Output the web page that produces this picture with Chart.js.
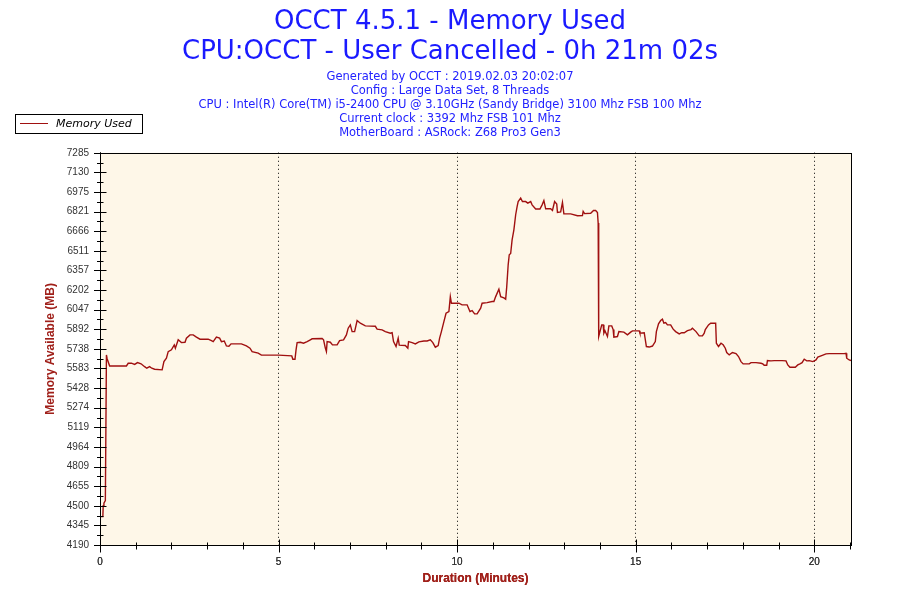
<!DOCTYPE html>
<html>
<head>
<meta charset="utf-8">
<title>OCCT 4.5.1 - Memory Used</title>
<script src="https://cdn.jsdelivr.net/npm/chart.js@4/dist/chart.umd.min.js"></script>
<style>
  html, body { margin: 0; padding: 0; background: #fff; }
</style>
</head>
<body>
<canvas id="memChart" width="900" height="600"></canvas>
<script>
// time in minutes, memory in MB
const minutes = [
  0.00, 0.08, 0.09, 0.11, 0.15, 0.18, 0.20, 0.27, 0.74, 0.79, 0.88, 0.97, 1.05, 1.15, 1.25, 1.31, 1.39, 1.45, 1.53, 1.74,
  1.79, 1.86, 1.91, 2.00, 2.08, 2.11, 2.19, 2.28, 2.38, 2.42, 2.52, 2.61, 2.70, 2.80, 3.03, 3.12, 3.17, 3.26, 3.35, 3.40,
  3.48, 3.54, 3.61, 3.67, 3.96, 4.10, 4.20, 4.26, 4.43, 4.52, 5.00, 5.37, 5.40, 5.46, 5.49, 5.52, 5.61, 5.70, 5.80, 5.89,
  5.94, 6.22, 6.26, 6.31, 6.34, 6.36, 6.45, 6.51, 6.64, 6.71, 6.82, 6.90, 6.95, 7.01, 7.06, 7.13, 7.20, 7.29, 7.43, 7.71,
  7.76, 7.90, 7.99, 8.13, 8.18, 8.22, 8.29, 8.35, 8.38, 8.55, 8.62, 8.64, 8.74, 8.83, 8.93, 9.07, 9.16, 9.25, 9.32, 9.39,
  9.47, 9.51, 9.56, 9.63, 9.69, 9.77, 9.81, 9.84, 9.91, 10.05, 10.14, 10.28, 10.36, 10.42, 10.49, 10.56, 10.66, 10.70, 10.84, 10.98,
  11.03, 11.08, 11.17, 11.22, 11.31, 11.36, 11.39, 11.43, 11.46, 11.50, 11.54, 11.59, 11.64, 11.68, 11.71, 11.78, 11.83, 11.92, 11.98, 12.06,
  12.10, 12.20, 12.32, 12.38, 12.43, 12.48, 12.62, 12.67, 12.73, 12.79, 12.81, 12.90, 12.95, 12.99, 13.18, 13.37, 13.51, 13.53, 13.57, 13.74,
  13.82, 13.88, 13.93, 13.95, 13.96, 13.97, 14.05, 14.09, 14.11, 14.14, 14.21, 14.25, 14.33, 14.37, 14.39, 14.49, 14.53, 14.67, 14.77, 14.86,
  14.91, 15.10, 15.12, 15.24, 15.30, 15.38, 15.47, 15.55, 15.58, 15.64, 15.70, 15.75, 15.79, 15.84, 15.89, 15.98, 16.05, 16.12, 16.22, 16.29,
  16.36, 16.45, 16.55, 16.59, 16.69, 16.78, 16.87, 16.92, 16.95, 17.04, 17.10, 17.24, 17.26, 17.32, 17.39, 17.45, 17.51, 17.55, 17.62, 17.71,
  17.81, 17.88, 17.95, 18.01, 18.18, 18.23, 18.37, 18.51, 18.56, 18.60, 18.67, 18.69, 18.79, 18.88, 19.10, 19.21, 19.26, 19.32, 19.47, 19.54,
  19.60, 19.66, 19.72, 19.79, 19.86, 19.96, 20.05, 20.10, 20.19, 20.33, 20.42, 20.84, 20.89, 20.91, 20.98, 21.03
];
const memoryUsed = [
  4414, 4414, 4500, 4520, 4540, 5690, 5660, 5603, 5603, 5624, 5625, 5615, 5629, 5620, 5597, 5585, 5597, 5585, 5577, 5572,
  5637, 5664, 5716, 5730, 5769, 5743, 5809, 5787, 5790, 5822, 5848, 5848, 5830, 5814, 5814, 5803, 5795, 5830, 5822, 5795,
  5800, 5761, 5758, 5777, 5777, 5761, 5743, 5716, 5704, 5688, 5688, 5682, 5656, 5656, 5730, 5787, 5790, 5782, 5795, 5809,
  5817, 5820, 5809, 5743, 5716, 5795, 5790, 5769, 5769, 5803, 5809, 5848, 5901, 5927, 5874, 5874, 5961, 5940, 5919, 5916,
  5893, 5888, 5874, 5861, 5865, 5795, 5756, 5822, 5767, 5764, 5743, 5795, 5787, 5777, 5793, 5800, 5800, 5809, 5787, 5751,
  5764, 5822, 5874, 5953, 6019, 6032, 6150, 6098, 6098, 6098, 6085, 6085, 6032, 6040, 6014, 6014, 6059, 6098, 6103, 6111,
  6111, 6150, 6209, 6150, 6140, 6130, 6229, 6401, 6480, 6490, 6598, 6677, 6796, 6861, 6900, 6927, 6900, 6900, 6888, 6900,
  6874, 6841, 6841, 6874, 6908, 6843, 6843, 6830, 6900, 6880, 6814, 6818, 6893, 6803, 6803, 6788, 6790, 6822, 6805, 6808,
  6830, 6830, 6814, 6730, 6338, 5835, 5927, 5927, 5861, 5880, 5835, 5919, 5919, 5890, 5830, 5835, 5874, 5870, 5848, 5870,
  5880, 5880, 5861, 5865, 5756, 5752, 5760, 5795, 5874, 5935, 5961, 5972, 5940, 5945, 5927, 5927, 5893, 5874, 5856, 5865,
  5865, 5882, 5890, 5901, 5874, 5840, 5840, 5861, 5890, 5927, 5940, 5940, 5782, 5756, 5782, 5770, 5743, 5709, 5690, 5709,
  5700, 5677, 5637, 5619, 5619, 5629, 5629, 5624, 5619, 5608, 5608, 5645, 5643, 5645, 5645, 5643, 5611, 5593, 5593, 5611,
  5619, 5629, 5656, 5643, 5645, 5637, 5650, 5672, 5682, 5698, 5700, 5700, 5703, 5664, 5650, 5645
];
const yTickLabels = ['4190', '4345', '4500', '4655', '4809', '4964', '5119', '5274', '5428', '5583', '5738',
  '5892', '6047', '6202', '6357', '6511', '6666', '6821', '6975', '7130', '7285'];
const xLabelEvery = 5;

const titleLines = ['OCCT 4.5.1 - Memory Used', 'CPU:OCCT - User Cancelled - 0h 21m 02s'];
const infoLines = [
  'Generated by OCCT : 2019.02.03 20:02:07',
  'Config : Large Data Set, 8 Threads',
  'CPU : Intel(R) Core(TM) i5-2400 CPU @ 3.10GHz (Sandy Bridge) 3100 Mhz FSB 100 Mhz',
  'Current clock : 3392 Mhz FSB 101 Mhz',
  'MotherBoard : ASRock: Z68 Pro3 Gen3'
];

const lineColor = '#a01010';

// cream plot area, frame, tick marks and the boxed legend
const occtFrame = {
  id: 'occtFrame',
  beforeDatasetsDraw(chart) {
    const { ctx, chartArea: a } = chart;
    ctx.save();
    ctx.fillStyle = '#fef7e8';
    ctx.fillRect(a.left, a.top, a.right - a.left, a.bottom - a.top);
    ctx.restore();
    chart.scales.x.draw(a);  // redraw dotted grid over the fill
  },
  afterDraw(chart) {
    const { ctx, chartArea: a, scales: { x, y } } = chart;
    ctx.save();
    ctx.strokeStyle = '#000';
    ctx.lineWidth = 1;
    ctx.strokeRect(Math.round(a.left) + 0.5, Math.round(a.top) + 0.5,
      Math.round(a.right - a.left), Math.round(a.bottom - a.top));

    ctx.beginPath();
    const yb = Math.round(a.bottom) + 0.5;
    for (let m = 0; m <= Math.floor(x.max); m++) {
      const px = Math.round(x.getPixelForValue(m)) + 0.5;
      const len = m % xLabelEvery === 0 ? 6 : 3;
      ctx.moveTo(px, yb - len);
      ctx.lineTo(px, yb + len + 1);
    }
    const xl = Math.round(a.left) + 0.5;
    const step = (y.max - y.min) / (yTickLabels.length - 1);
    for (let i = 0; i < yTickLabels.length; i++) {
      const py = Math.round(y.getPixelForValue(y.min + i * step)) + 0.5;
      ctx.moveTo(xl - 6.5, py);
      ctx.lineTo(xl + 6, py);
      if (i < yTickLabels.length - 1) {
        const pm = Math.round(y.getPixelForValue(y.min + (i + 0.5) * step)) + 0.5;
        ctx.moveTo(xl - 3.5, pm);
        ctx.lineTo(xl + 3, pm);
      }
    }
    ctx.stroke();

    // legend box
    ctx.fillStyle = '#fff';
    ctx.fillRect(15.5, 114.5, 127, 19);
    ctx.strokeRect(15.5, 114.5, 127, 19);
    ctx.strokeStyle = chart.data.datasets[0].borderColor;
    ctx.beginPath();
    ctx.moveTo(20, 123.5);
    ctx.lineTo(48, 123.5);
    ctx.stroke();
    ctx.fillStyle = '#000';
    ctx.font = 'italic 11px "DejaVu Sans"';
    ctx.textBaseline = 'middle';
    ctx.fillText(chart.data.datasets[0].label, 56, 124);
    ctx.restore();
  }
};

new Chart(document.getElementById('memChart'), {
  type: 'line',
  data: {
    datasets: [{
      label: 'Memory Used',
      data: minutes.map((m, i) => ({ x: m, y: memoryUsed[i] })),
      borderColor: lineColor,
      borderWidth: 1.4,
      pointRadius: 0,
      tension: 0,
      fill: false
    }]
  },
  options: {
    responsive: false,
    animation: false,
    devicePixelRatio: 1,
    layout: { padding: { left: 49, right: 49, top: 0, bottom: 10 } },
    plugins: {
      legend: { display: false },
      tooltip: { enabled: false },
      title: {
        display: true,
        text: titleLines,
        color: '#1a1aff',
        font: { family: '"DejaVu Sans"', size: 26, weight: 'normal', lineHeight: 1.15 },
        padding: { top: 7, bottom: 3 }
      },
      subtitle: {
        display: true,
        text: infoLines,
        color: '#2222ff',
        font: { family: '"DejaVu Sans"', size: 11.5, lineHeight: 1.217 },
        padding: { top: 0, bottom: 13 }
      }
    },
    scales: {
      x: {
        type: 'linear',
        min: 0,
        max: 21.03,
        afterFit(scale) { scale.height = 45; },
        ticks: {
          stepSize: 1,
          autoSkip: false,
          maxRotation: 0,
          padding: 11,
          color: '#333',
          font: { family: '"Liberation Sans"', size: 10 },
          callback: v => (Number.isInteger(v) && v % xLabelEvery === 0) ? String(v) : ''
        },
        grid: {
          drawTicks: false,
          lineWidth: 1,
          color: c => (c.tick && c.tick.value > 0 && c.tick.value % xLabelEvery === 0) ? '#000' : 'rgba(0,0,0,0)'
        },
        border: { display: true, color: '#000', dash: [1, 3] },
        title: {
          display: true,
          text: 'Duration (Minutes)',
          color: '#a0201a',
          font: { family: '"Liberation Sans"', size: 12, weight: 'bold' },
          padding: { top: 4, bottom: 4 }
        }
      },
      y: {
        min: 4190,
        max: 7285,
        afterFit(scale) { scale.width = 51; },
        ticks: {
          stepSize: 154.75,
          autoSkip: false,
          padding: 11,
          color: '#333',
          font: { family: '"Liberation Sans"', size: 10 },
          callback: (v, i) => yTickLabels[i]
        },
        grid: { display: false, drawTicks: false },
        border: { display: true, color: '#000' },
        title: {
          display: true,
          text: 'Memory Available (MB)',
          color: '#a0201a',
          font: { family: '"Liberation Sans"', size: 12, weight: 'bold' },
          padding: { top: -6, bottom: 0 }
        }
      }
    }
  },
  plugins: [occtFrame]
});
</script>
</body>
</html>
